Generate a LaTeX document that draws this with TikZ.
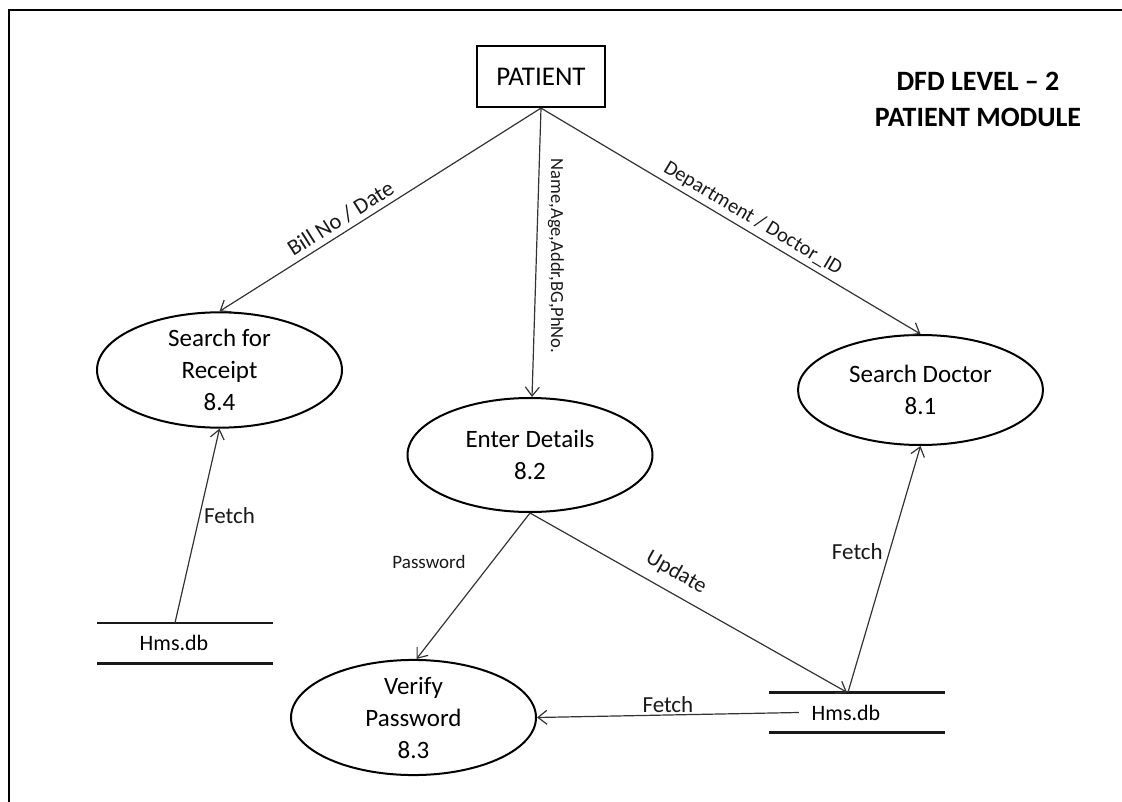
\documentclass[tikz,border=0pt]{standalone}
\usepackage{fontspec}
\setmainfont{Carlito}
\usetikzlibrary{shapes.geometric,arrows.meta}
\begin{document}
\begin{tikzpicture}[x=1pt,y=-1pt,
  frame/.style={line width=2pt,black},
  entity/.style={draw,line width=2.2pt,minimum width=128pt,minimum height=61pt,inner sep=0pt,
    font=\fontsize{27}{32}\selectfont},
  process/.style={draw,ellipse,line width=2pt,minimum width=245pt,minimum height=110pt,inner sep=0pt,
    align=center,font=\fontsize{25}{32}\selectfont},
  store/.style={minimum width=176pt,minimum height=40pt,inner sep=0pt},
  storeline/.style={line width=2.6pt,black!90},
  flow/.style={draw=black!80,line width=1.2pt,-{Straight Barb[length=9pt,width=14pt,line width=1.2pt]}},
  flowlabel/.style={inner sep=2pt,text=black!90},
  title/.style={align=center,font=\fontsize{28}{36}\selectfont\bfseries}]
\useasboundingbox (0,0) rectangle (1122,802);

% outer frame (top and left edges)
\draw[frame] (1122,10) -- (9,10) -- (9,802);

% heading
\node[title] (heading) at (978,99) {DFD LEVEL -- 2\\PATIENT MODULE};

% external entity
\node[entity] (patient) at (541,76.5) {PATIENT};

% processes
\node[process] (receipt) at (219.5,370) {Search for\\Receipt\\8.4};
\node[process,minimum height=114pt] (details) at (530,455) {Enter Details\\8.2};
\node[process] (doctor)  at (920.5,390) {Search Doctor\\8.1};
\node[process] (verify)  at (413.5,717.5) {Verify\\Password\\8.3};

% data stores
\node[store,label={[xshift=-11pt,font=\fontsize{22}{26}\selectfont]center:Hms.db}] (dbL) at (185,643) {};
\node[store,label={[xshift=-11pt,font=\fontsize{22}{26}\selectfont]center:Hms.db}] (dbR) at (857,712.5) {};
\foreach \s in {dbL,dbR}{
  \draw[storeline] (\s.north west) -- (\s.north east);
  \draw[storeline] (\s.south west) -- (\s.south east);
}

% data flows from the patient
\draw[flow] (patient.south) -- (receipt.north)
  node[flowlabel,pos=0.6,sloped,above,yshift=3pt,font=\fontsize{22.5}{26}\selectfont] {Bill No / Date};
\draw[flow] (patient.south) -- ([xshift=2pt]details.north);
\node[flowlabel,rotate=-90,font=\fontsize{18.5}{22}\selectfont] (nameage) at (556,256) {Name,Age,Addr,BG,PhNo.};
\draw[flow] (patient.south) -- (doctor.north)
  node[flowlabel,pos=0.54,sloped,above,yshift=2pt,font=\fontsize{20.5}{24}\selectfont] {Department / Doctor\_ID};

% fetches from the data stores
\draw[flow] ([xshift=-10pt]dbL.north) -- (receipt.south)
  node[flowlabel,pos=0.55,right,xshift=2pt,font=\fontsize{23}{26}\selectfont] {Fetch};
\draw[flow] ([xshift=-9pt]dbR.north) -- (doctor.south)
  node[flowlabel,pos=0.57,left,xshift=-4pt,font=\fontsize{23}{26}\selectfont] {Fetch};
\draw[flow] ([xshift=30pt]dbR.west) -- (verify.east)
  node[flowlabel,pos=0.5,above,font=\fontsize{23}{26}\selectfont] {Fetch};

% flows out of Enter Details
\draw[flow] (details.south) -- ([xshift=3pt]verify.north);
\node[flowlabel,font=\fontsize{19}{22}\selectfont] (pwd) at (429,562) {Password};
\draw[flow] (details.south) -- ([xshift=-10pt]dbR.north)
  node[flowlabel,pos=0.43,sloped,above,yshift=8pt,font=\fontsize{22}{24}\selectfont] {Update};
\end{tikzpicture}
\end{document}
